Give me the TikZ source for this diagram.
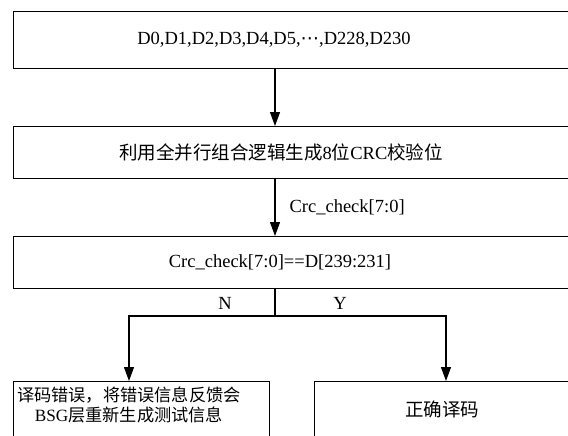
\documentclass[tikz,border=0pt]{standalone}
\usepackage{fontspec}
\setmainfont{Liberation Serif}
\newfontfamily\cjk{Noto Sans CJK SC}
\newfontfamily\dvs{DejaVu Sans}
\usetikzlibrary{arrows.meta}
\begin{document}
\begin{tikzpicture}[x=1pt,y=-1pt,
  box/.style={draw, line width=1.2pt, rectangle, inner sep=0pt, anchor=north west},
  lbl/.style={font=\fontsize{18.5}{20}\selectfont, inner sep=0pt},
  arr/.style={line width=1.2pt, -{Triangle[length=14pt,width=10pt]}},
  conn/.style={line width=1.2pt}]
\useasboundingbox (0,0) rectangle (568,436);
\clip (0,0) rectangle (568,436);
\fill[white] (0,0) rectangle (568,436);
% boxes
\node[box, minimum width=620pt, minimum height=57pt] (b1) at (13,11) {};
\node[box, minimum width=620pt, minimum height=52pt] (b2) at (13,126) {};
\node[box, minimum width=620pt, minimum height=52pt] (b3) at (13,236) {};
\node[box, minimum width=256pt, minimum height=100pt] (b4) at (13,381) {};
\node[box, minimum width=300pt, minimum height=100pt] (b5) at (314,381) {};
% texts
\node[lbl] (t1) at (274,40) {D0,D1,D2,D3,D4,D5,{\dvs ⋯},D228,D230};
\node[lbl] (t2) at (281,152) {{\cjk 利用全并行组合逻辑生成}8{\cjk 位}CRC{\cjk 校验位}};
\node[lbl] (t3) at (280,262) {Crc\_check[7:0]==D[239:231]};
\node[lbl, align=center, font=\fontsize{17.2}{20}\selectfont] (t4) at (129,405) {{\cjk 译码错误，将错误信息反馈会}\\BSG{\cjk 层重新生成测试信息}};
\node[lbl] (t5) at (442,409) {\cjk 正确译码};
% connectors
\coordinate (c) at (275,0);
\coordinate (cl) at (129,0);
\coordinate (cr) at (446,0);
\coordinate (j) at (275,316);
\draw[arr] (b1.south -| c) -- (b2.north -| c);
\draw[arr] (b2.south -| c) -- node[lbl, anchor=west, xshift=14pt] (lc) {Crc\_check[7:0]} (b3.north -| c);
\draw[conn] (b3.south -| c) -- (j);
\draw[arr] (j) -| (b4.north -| cl);
\draw[arr] (j) -| (b5.north -| cr);
\node[lbl] (ln) at (225,303) {N};
\node[lbl] (ly) at (340,303) {Y};
\end{tikzpicture}
\end{document}
